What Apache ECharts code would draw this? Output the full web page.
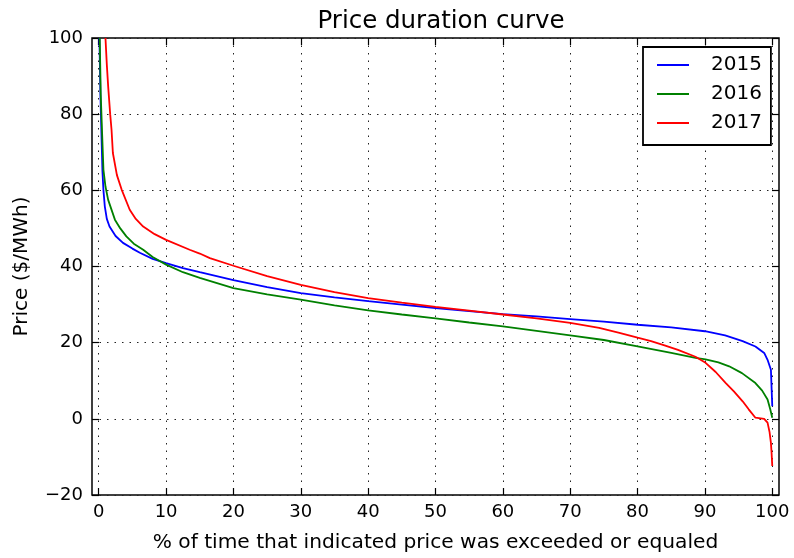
<!DOCTYPE html>
<html>
<head>
<meta charset="utf-8">
<script src="https://cdn.jsdelivr.net/npm/echarts@6/dist/echarts.min.js"></script>
<style>html,body{margin:0;padding:0;background:#fff}#c{width:794px;height:558px}</style>
</head>
<body>
<div id="c"></div>
<script>
const seriesNames = ['2015', '2016', '2017'];
const xTicks = [0, 10, 20, 30, 40, 50, 60, 70, 80, 90, 100];
const yTicks = [-20, 0, 20, 40, 60, 80, 100];

const data2015 = [
  [0.1,100],[0.25,85],[0.4,75],[0.55,65],[0.7,60],[0.9,55.8],[1.2,52.5],[1.6,50.5],[2.5,48],[3.6,46.2],
  [5,44.7],[6.1,43.6],[8,42],[10,40.9],[12.5,39.6],[15,38.5],[20,36.4],[25,34.6],[30,33.0],[35,31.9],
  [40,30.9],[45,30],[50,29.1],[55,28.3],[60,27.5],[65,26.9],[70,26.2],[75,25.5],[80,24.7],[85,24],
  [90,23.0],[93,21.9],[95.6,20.4],[97.5,19],[98.8,17.3],[99.3,15.5],[99.8,12.9],[99.9,8],[100,3.3]
];
const data2016 = [
  [0.15,100],[0.3,85],[0.5,75],[0.7,65.4],[1.0,61],[1.4,57.5],[2.4,52.3],[3.2,50],[4.1,47.9],[5.2,46],
  [6.6,44.4],[8,42.5],[10,40.5],[12.5,38.5],[15,37.0],[20,34.3],[25,32.7],[30,31.3],[35,29.8],[40,28.5],
  [45,27.4],[50,26.4],[55,25.3],[60,24.3],[65,23.1],[70,21.9],[75,20.7],[80,19.0],[85,17.3],[88.6,16.0],
  [90.1,15.6],[92,14.8],[93.6,13.8],[95.5,12],[97.5,9.4],[98.5,7.4],[99.3,5.1],[99.7,2.5],[100,0.3]
];
const data2017 = [
  [1.0,100],[1.2,93],[1.4,87.3],[1.7,80],[1.9,75.9],[2.1,69.8],[2.7,64],[3.4,60.2],[4.6,54.9],[5.5,52.5],
  [6.6,50.5],[8.3,48.5],[10,47],[13.5,44.4],[15,43.4],[16.5,42.2],[20,40.2],[25,37.5],[30,35.2],[35,33.3],
  [40,31.7],[45,30.5],[50,29.4],[55,28.4],[60,27.4],[65,26.4],[70,25.2],[74.3,23.9],[77.3,22.6],[80,21.3],
  [82,20.4],[84,19.3],[86,18.1],[88.6,16.3],[90.1,14.7],[91.6,12.3],[93.1,9.4],[94.3,7.2],[95.6,4.6],[96.5,2.5],
  [97.5,0.3],[98.8,0],[99.3,-1],[99.6,-3.5],[99.8,-6.3],[99.9,-9],[100,-12.4]
];
const colors = ['#0000ff', '#008000', '#ff0000'];
const allData = [data2015, data2016, data2017];

const FONT = 'DejaVu Sans';
const chart = echarts.init(document.getElementById('c'), null, {renderer: 'canvas'});
const gridLine = {show: true, lineStyle: {color: '#222', width: 1, type: [1.5, 6]}};
const tick = {show: true, inside: true, length: 7, lineStyle: {color: '#000', width: 1.2}};
const noLine = {show: false, onZero: false};

chart.setOption({
  animation: false,
  backgroundColor: '#fff',
  title: {
    text: 'Price duration curve',
    left: 436, top: 4, textAlign: 'center',
    textStyle: {fontFamily: FONT, fontSize: 24.5, fontWeight: 'normal', color: '#000'}
  },
  legend: {
    data: seriesNames,
    orient: 'vertical',
    left: 643, top: 47,
    padding: [8, 9, 12, 14],
    itemGap: 9,
    itemWidth: 32, itemHeight: 2,
    icon: 'rect',
    borderColor: '#000', borderWidth: 1.8,
    backgroundColor: '#fff',
    textStyle: {fontFamily: FONT, fontSize: 20, color: '#000', lineHeight: 20, padding: [0, 0, 0, 17]}
  },
  grid: {left: 92, right: 15, top: 38, bottom: 62, show: true, borderColor: '#000', borderWidth: 1.5, backgroundColor: 'transparent'},
  xAxis: [{
    type: 'value', min: -1, max: 101, position: 'bottom',
    axisLine: noLine,
    axisTick: Object.assign({customValues: xTicks}, tick),
    splitLine: gridLine,
    axisLabel: {customValues: xTicks, fontFamily: FONT, fontSize: 18, color: '#000', margin: 8},
    name: '% of time that indicated price was exceeded or equaled',
    nameLocation: 'middle', nameGap: 38,
    nameTextStyle: {fontFamily: FONT, fontSize: 20.2, color: '#000'}
  }, {
    type: 'value', min: -1, max: 101, position: 'top',
    axisLine: noLine,
    axisTick: Object.assign({customValues: xTicks}, tick),
    splitLine: {show: false}, axisLabel: {show: false}
  }],
  yAxis: [{
    type: 'value', min: -20, max: 100, interval: 20, position: 'left',
    axisLine: noLine,
    axisTick: tick,
    splitLine: gridLine,
    axisLabel: {fontFamily: FONT, fontSize: 18, color: '#000', margin: 9,
      formatter: v => (v < 0 ? '\u2212' + Math.abs(v) : String(v))},
    name: 'Price ($/MWh)',
    nameLocation: 'middle', nameGap: 60,
    nameTextStyle: {fontFamily: FONT, fontSize: 20, color: '#000'}
  }, {
    type: 'value', min: -20, max: 100, interval: 20, position: 'right',
    axisLine: noLine,
    axisTick: tick,
    splitLine: {show: false}, axisLabel: {show: false}
  }],
  series: seriesNames.map((n, i) => ({
    name: n, type: 'line', data: allData[i],
    xAxisIndex: 0, yAxisIndex: 0,
    showSymbol: false, symbol: 'none', clip: true,
    lineStyle: {color: colors[i], width: 1.8},
    itemStyle: {color: colors[i]}
  }))
});
</script>
</body>
</html>
